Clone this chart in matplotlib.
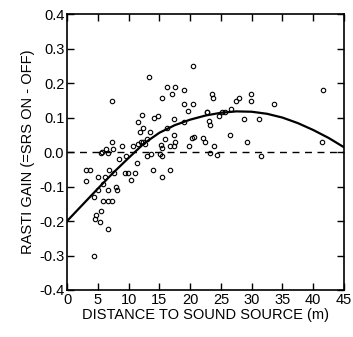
import matplotlib
matplotlib.use("Agg")
import matplotlib.pyplot as plt

plt.rcParams['font.family'] = ['Liberation Sans', 'DejaVu Sans']
plt.rcParams['axes.unicode_minus'] = False

# measured points: distance (m) and RASTI gain
distance = [7.35, 13.3, 20.4, 16.3, 17.5, 15.5, 17.0, 19.0, 19.0, 20.4,
            19.7, 22.7, 12.2, 14.7, 14.1, 11.5, 17.4, 19.0, 12.3, 11.85,
            13.4, 16.3, 17.3, 15.9, 13.0, 12.0, 11.6, 12.4, 12.7, 7.25,
            9.0, 10.7, 6.3, 7.5, 5.7, 17.5, 15.3, 15.4, 16.8, 17.4,
            20.7, 20.3, 22.1, 22.4, 19.8, 13.0, 13.6, 15.1, 15.4, 11.3,
            8.5, 9.5, 23.6, 23.7, 29.9, 29.9, 27.5, 28.0, 33.7, 26.6,
            22.8, 24.7, 25.2, 25.6, 23.1, 23.2, 28.7, 31.2, 41.6, 26.5,
            23.8, 29.3, 41.5, 23.3, 24.3, 31.5, 5.5, 6.6, 3.1, 3.8,
            3.1, 5.1, 6.8, 6.1, 5.8, 5.0, 4.4, 6.6, 5.8, 6.7,
            7.3, 5.5, 4.65, 4.6, 5.35, 6.65, 4.3, 7.9, 8.1, 7.7,
            9.4, 9.95, 10.4, 11.0, 13.9, 15.5, 16.7]
gain = [0.149, 0.219, 0.251, 0.188, 0.188, 0.157, 0.168, 0.179, 0.138, 0.138,
        0.118, 0.116, 0.107, 0.105, 0.098, 0.088, 0.097, 0.086, 0.069, 0.058,
        0.058, 0.070, 0.049, 0.039, 0.039, 0.028, 0.024, 0.030, 0.022, 0.029,
        0.017, 0.018, 0.008, 0.008, 0.000, 0.029, 0.020, 0.011, 0.019, 0.018,
        0.045, 0.041, 0.040, 0.028, 0.018, -0.010, -0.006, -0.005, -0.011, -0.033,
        -0.021, -0.011, 0.168, 0.157, 0.167, 0.148, 0.149, 0.157, 0.138, 0.126,
        0.116, 0.104, 0.117, 0.115, 0.090, 0.079, 0.097, 0.097, 0.179, 0.049,
        0.018, 0.028, 0.029, -0.003, -0.009, -0.011, -0.003, -0.003, -0.052, -0.052,
        -0.083, -0.072, -0.053, -0.072, -0.093, -0.110, -0.130, -0.111, -0.141, -0.141,
        -0.141, -0.172, -0.183, -0.193, -0.202, -0.222, -0.301, -0.101, -0.111, -0.062,
        -0.061, -0.061, -0.082, -0.062, -0.052, -0.072, -0.052]

# fitted trend
fit_x = [0, 2.5, 5, 7.5, 10, 12.5, 15, 17.5, 20, 22.5,
         25, 27.5, 30, 32.5, 35, 37.5, 40, 42.5, 45]
fit_y = [-0.200, -0.153, -0.106, -0.060, -0.017, 0.025, 0.056, 0.078, 0.094, 0.106,
         0.114, 0.118, 0.117, 0.111, 0.100, 0.084, 0.064, 0.041, 0.014]

fig = plt.figure(figsize=(3.53, 3.37), dpi=100)
ax = fig.add_axes([0.190, 0.1395, 0.7845, 0.8185])

ax.axhline(0, color='black', lw=1.0, dashes=(5, 4))
ax.plot(fit_x, fit_y, color='black', lw=1.6)
ax.plot(distance, gain, 'o', mfc='none', mec='black', ms=3.2, mew=0.8)

ax.set_xlim(0, 45)
ax.set_ylim(-0.4, 0.4)
ax.set_xticks(range(0, 50, 5))
ax.set_yticks([-0.4, -0.3, -0.2, -0.1, 0.0, 0.1, 0.2, 0.3, 0.4])
ax.set_yticklabels(['-0.4', '-0.3', '-0.2', '-0.1', '0.0', '0.1', '0.2', '0.3', '0.4'])
ax.tick_params(direction='in', top=True, right=True, length=5, width=1.0,
               labelsize=10.5, pad=2)
for s in ax.spines.values():
    s.set_linewidth(1.2)

ax.set_xlabel('DISTANCE TO SOUND SOURCE (m)', fontsize=10.5, labelpad=1)
ax.set_ylabel('RASTI GAIN (=SRS ON - OFF)', fontsize=10.5, labelpad=3)

fig.savefig('out.png', dpi=100)
